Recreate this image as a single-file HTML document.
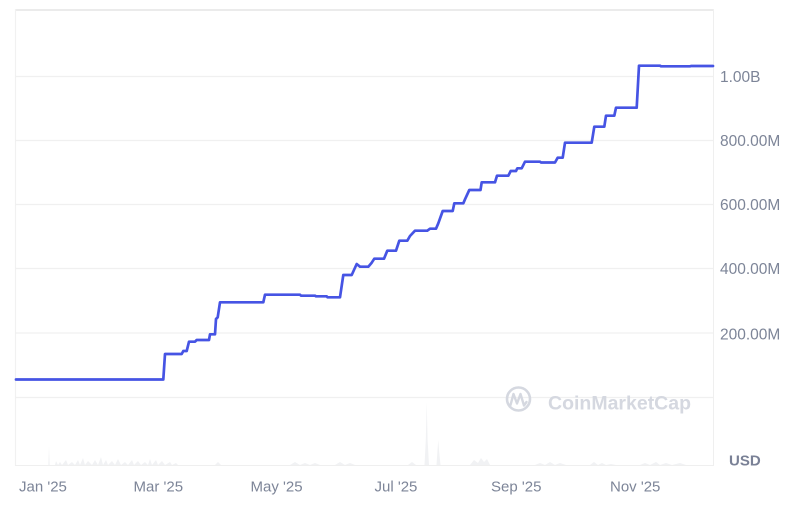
<!DOCTYPE html>
<html>
<head>
<meta charset="utf-8">
<style>
  html,body{margin:0;padding:0;background:#fff;}
  svg{display:block;}
  .yl{font-family:"Liberation Sans",sans-serif;font-size:15.5px;fill:#7d8598;}
  .xl{font-family:"Liberation Sans",sans-serif;font-size:15px;fill:#7d8598;}
</style>
</head>
<body>
<svg width="800" height="510" viewBox="0 0 800 510" xmlns="http://www.w3.org/2000/svg">
  <rect width="800" height="510" fill="#fff"/>
  <!-- frame -->
  <line x1="15" y1="10" x2="713.5" y2="10" stroke="#ebebeb" stroke-width="2"/>
  <line x1="15.5" y1="9" x2="15.5" y2="465.5" stroke="#f1f1f1" stroke-width="1.2"/>
  <line x1="713.5" y1="9" x2="713.5" y2="465.5" stroke="#efefef" stroke-width="1"/>
  <line x1="15" y1="465.5" x2="714" y2="465.5" stroke="#efefef" stroke-width="1"/>
  <!-- gridlines -->
  <g stroke="#f0f0f0" stroke-width="1.2">
    <line x1="15" y1="76.5" x2="713" y2="76.5"/>
    <line x1="15" y1="140.5" x2="713" y2="140.5"/>
    <line x1="15" y1="204.5" x2="713" y2="204.5"/>
    <line x1="15" y1="268.5" x2="713" y2="268.5"/>
    <line x1="15" y1="333" x2="713" y2="333"/>
    <line x1="15" y1="397.5" x2="713" y2="397.5"/>
  </g>
  <!-- volume bars -->
  <g fill="#f1f2f4" stroke="none">
    <polygon points="48.3,465 49,446 49.7,465"/>
    <polygon points="55,465 56,461 58,465 60,462 62,465 66,460 68,465 72,462 75,465 78,460 80,465 83,458 85,465 88,461 92,465 95,460 98,465 101,457 103,465 106,460 108,465 112,461 115,465 118,459 121,465 125,462 128,465 132,460 134,465 138,461 141,465 145,462 148,465 150,459 152,465 156,460 158,465 162,461 165,465 170,462 172,465 176,463 178,465"/>
    <polygon points="215,465 218,462 221,465"/>
    <polygon points="290,465 295,462 300,465 305,463 310,465 315,463 320,465"/>
    <polygon points="335,465 340,462 345,465 350,463 355,465"/>
    <polygon points="408,465 412,462 416,465"/>
    <polygon points="424.5,465 425.8,440 426.7,401.7 427.6,440 429,465"/>
    <polygon points="436.5,465 437.5,450 438.3,440 439.2,452 440.5,465"/>
    <polygon points="470,465 474,460 478,463 481,458 484,462 487,459 490,465"/>
    <polygon points="535,465 540,463 545,465 550,462 555,465 560,463 566,465"/>
    <polygon points="590,465 594,462 598,465 602,463 606,465 611,464 616,465"/>
    <polygon points="640,465 645,463 650,465 656,462 660,465 666,463 672,465 680,463 686,465"/>
  </g>
  <!-- watermark -->
  <g>
    <circle cx="518.5" cy="399" r="11.5" fill="none" stroke="#d5d8e0" stroke-width="2.6"/>
    <path d="M510.5,405 L513.5,394 L517,403.5 L520.5,394 L524,405.5 L526.5,402" fill="none" stroke="#d5d8e0" stroke-width="2.4" stroke-linejoin="round" stroke-linecap="round"/>
    <text x="548" y="409.5" font-family="Liberation Sans, sans-serif" font-size="19.5" font-weight="bold" fill="#d5d8e0">CoinMarketCap</text>
  </g>
  <!-- price line -->
  <path fill="none" stroke="#4654e4" stroke-width="2.7" stroke-linejoin="round" stroke-linecap="round"
    d="M16,379.5 H163.3 L165,354 H181.7 L183.3,351 H186.7 L189,341.7 H195 L196.7,340 H209 L210,334.3 H215 L216,319 L217.7,317.3 L220,302.3 H263.3 L265,294.7 H300 L301,295.7 H315 L316,296.3 H326.7 L327.5,297.3 H340 L343.3,275 H351.7 L356.7,264 L360,266.7 H368.3 L371.7,262.7 L374.3,258.7 H384 L387.3,250.7 H396 L399.3,240.7 H407.3 L410,236 L415,230.7 H427.3 L430,228.7 H436 L438.3,223.3 L442.7,211 H452.7 L454.3,203.3 H463.3 L465,199.3 L469.3,190 H480.5 L481.7,182.3 H495 L497,175.7 H508.3 L510.7,171 H516 L517.3,168.3 H521.7 L525,161.7 H540 L541,162.5 H555 L557.7,157.7 H562.7 L565,142.7 H591.7 L594.3,126.7 H604.3 L606,115.7 H614.3 L616,107.7 H636.7 L639,65.7 H660 L661,66.3 H690 L691,66 H713"/>
  <!-- y labels -->
  <text class="yl" x="720" y="82">1.00B</text>
  <text class="yl" x="720" y="146">800.00M</text>
  <text class="yl" x="720" y="210">600.00M</text>
  <text class="yl" x="720" y="274">400.00M</text>
  <text class="yl" x="720" y="339.5">200.00M</text>
  <text x="729" y="465.5" font-family="Liberation Sans, sans-serif" font-size="15" font-weight="bold" fill="#7a8196">USD</text>
  <!-- x labels -->
  <text class="xl" x="19" y="491.5">Jan '25</text>
  <text class="xl" x="133.5" y="491.5">Mar '25</text>
  <text class="xl" x="250.5" y="491.5">May '25</text>
  <text class="xl" x="374.5" y="491.5">Jul '25</text>
  <text class="xl" x="491" y="491.5">Sep '25</text>
  <text class="xl" x="610" y="491.5">Nov '25</text>
</svg>
</body>
</html>
